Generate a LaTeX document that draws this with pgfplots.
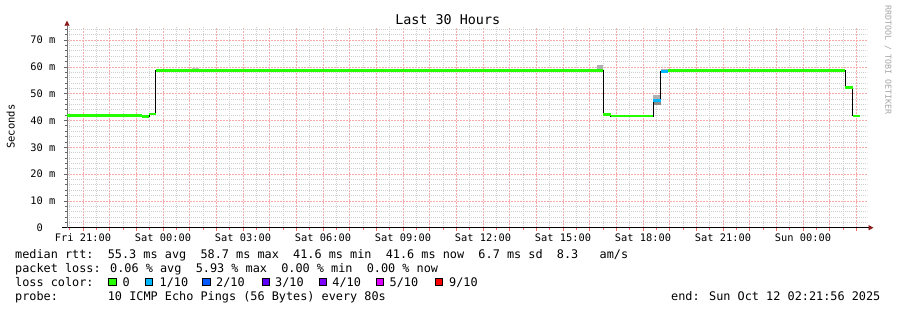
\documentclass[border=0pt]{standalone}
\usepackage{pgfplots}
\pgfplotsset{compat=1.18}
\usepackage{fontspec}
\setmainfont{DejaVu Sans Mono}
\usetikzlibrary{arrows.meta}
\definecolor{lc0}{HTML}{26FF00}
\definecolor{lc1}{HTML}{00B8FF}
\definecolor{lc2}{HTML}{0059FF}
\definecolor{lc3}{HTML}{5E00FF}
\definecolor{lc4}{HTML}{7E00FF}
\definecolor{lc5}{HTML}{DD00FF}
\definecolor{lc9}{HTML}{FF0000}
\definecolor{mgrid}{HTML}{F7ABAB}
\definecolor{sgrid}{HTML}{CFCFCF}
\definecolor{arrowred}{HTML}{8B1A1A}
\definecolor{smokeA}{HTML}{C4C4C4}
\definecolor{smokeB}{HTML}{B0B0B0}
\definecolor{smokeC}{HTML}{8C8C8C}
\newcommand{\lfont}{\fontsize{11.84bp}{14bp}\selectfont}
\begin{document}
\begin{tikzpicture}
\useasboundingbox (0,0) rectangle (897bp,-310bp);
\fill[white] (0,0) rectangle (897bp,-310bp);
\begin{axis}[
  at={(67bp,-227.7bp)}, anchor=south west,
  scale only axis, width=800bp, height=201bp,
  xmin=-0.6, xmax=29.4, ymin=0, ymax=75,
  axis x line=bottom, axis y line=left,
  x axis line style={black, line width=0.8bp, shorten <=-5bp, shorten >=-6.5bp,
    -{Triangle[length=5bp,width=5bp,color=arrowred]}},
  y axis line style={black!55, line width=0.8bp, shorten >=-6bp,
    -{Triangle[length=5bp,width=5bp,color=arrowred]}},
  tick align=outside,
  major tick length=3bp, minor tick length=2bp,
  xtick style={color=red!60, line width=0.8bp},
  ytick style={color=black!60, line width=0.8bp},
  grid=both,
  major grid style={draw=mgrid, line width=0.7bp, dash pattern=on 2bp off 1bp},
  minor grid style={draw=sgrid, line width=0.7bp, dash pattern=on 1bp off 1bp},
  xtick={0,1,...,29},
  xticklabels={Fri 21:00,,,Sat 00:00,,,Sat 03:00,,,Sat 06:00,,,Sat 09:00,,,Sat 12:00,,,Sat 15:00,,,Sat 18:00,,,Sat 21:00,,,Sun 00:00,,},
  minor xtick={-0.5,0.5,...,28.5},
  ytick={0,10,...,70},
  yticklabels={0\hphantom{~m},10 m,20 m,30 m,40 m,50 m,60 m,70 m},
  minor ytick={2,4,6,8,12,14,16,18,22,24,26,28,32,34,36,38,42,44,46,48,52,54,56,58,62,64,66,68,72,74},
  /pgf/number format/assume math mode=true,
  ticklabel style={font=\fontsize{10.36bp}{12bp}\selectfont, text=black},
  xticklabel style={anchor=north, inner sep=0pt, yshift=-3bp},
  yticklabel style={anchor=east, inner sep=0pt, xshift=-8.5bp},
  clip=false,
]
% smoke
\addplot[fill=smokeA, draw=none] coordinates {(4.076,58.9) (4.36,58.9) (4.36,59.6) (4.076,59.6)};
\addplot[fill=smokeB, draw=none] coordinates {(19.286,58.9) (19.51,58.9) (19.51,60.6) (19.286,60.6)};
\addplot[fill=smokeB, draw=none] coordinates {(21.386,47.4) (21.664,47.4) (21.664,49.5) (21.386,49.5)};
\addplot[fill=smokeC, draw=none] coordinates {(21.386,45.8) (21.664,45.8) (21.664,47.4) (21.386,47.4)};
\addplot[fill=smokeB, draw=none] coordinates {(21.664,58.2) (21.94,58.2) (21.94,59.1) (21.664,59.1)};
% median connecting line
\addplot[const plot, black, line width=0.9bp] coordinates {
(-0.6,41.8) (2.2125,41.5) (2.475,42.4) (2.726,58.7) (19.51,42.3) (19.789,41.6)
(21.386,47.4) (21.664,58.2) (21.94,58.7) (28.586,52.4) (28.864,41.7) (29.14,41.7)};
% loss 0/10
\addplot[jump mark left, lc0, line width=2.5bp] coordinates {
(-0.6,41.8) (2.2125,41.5) (2.475,42.4) (2.726,58.7) (19.51,42.3) (19.789,41.6) (21.386,41.6)};
% loss 1/10
\addplot[jump mark left, lc1, line width=2.5bp] coordinates {
(21.386,47.4) (21.664,58.2) (21.94,58.2)};
% loss 0/10
\addplot[jump mark left, lc0, line width=2.5bp] coordinates {
(21.94,58.7) (28.586,52.4) (28.864,41.7) (29.14,41.7)};
\end{axis}
% titles
\node[anchor=base, inner sep=0pt, font=\fontsize{13.4bp}{15bp}\selectfont] at (447.7bp,-24bp) {Last 30 Hours};
\node[rotate=90, inner sep=0pt, font=\fontsize{10.5bp}{12bp}\selectfont] at (10.8bp,-126.7bp) {Seconds};
\node[rotate=-90, inner sep=0pt, text=black!35, font=\fontsize{8.3bp}{10bp}\selectfont] at (888bp,-60bp) {RRDTOOL / TOBI OETIKER};
% legend text
\node[anchor=base west, inner sep=0pt, font=\lfont] at (15bp,-258.3bp) {median rtt:~~55.3 ms avg~~58.7 ms max~~41.6 ms min~~41.6 ms now~~6.7 ms sd~~8.3~~~am/s};
\node[anchor=base west, inner sep=0pt, font=\lfont] at (15bp,-272.3bp) {packet loss: 0.06 \% avg~~5.93 \% max~~0.00 \% min~~0.00 \% now};
\node[anchor=base west, inner sep=0pt, font=\lfont] at (15bp,-286.3bp) {loss color:};
\node[anchor=base west, inner sep=0pt, font=\lfont] at (15bp,-300.3bp) {probe:~~~~~~~10 ICMP Echo Pings (56 Bytes) every 80s};
\node[anchor=base east, inner sep=0pt, font=\lfont] at (880.5bp,-300.3bp) {end: Sun Oct 12 02:21:56 2025};
% loss colour keys
\foreach \sx/\tx/\c/\lab in {108.7/122.3/lc0/0, 145.3/159.5/lc1/1\slash 10, 202.7/216/lc2/2\slash 10, 262.2/275/lc3/3\slash 10, 319.3/332.2/lc4/4\slash 10, 376/389.5/lc5/5\slash 10, 435.3/449/lc9/9\slash 10}{
  \draw[black, line width=0.8bp, fill=\c] (\sx bp,-278.4bp) rectangle ++(7.4bp,-7.4bp);
  \node[anchor=base west, inner sep=0pt, font=\lfont] at (\tx bp,-286.3bp) {\lab};
}
\end{tikzpicture}
\end{document}
